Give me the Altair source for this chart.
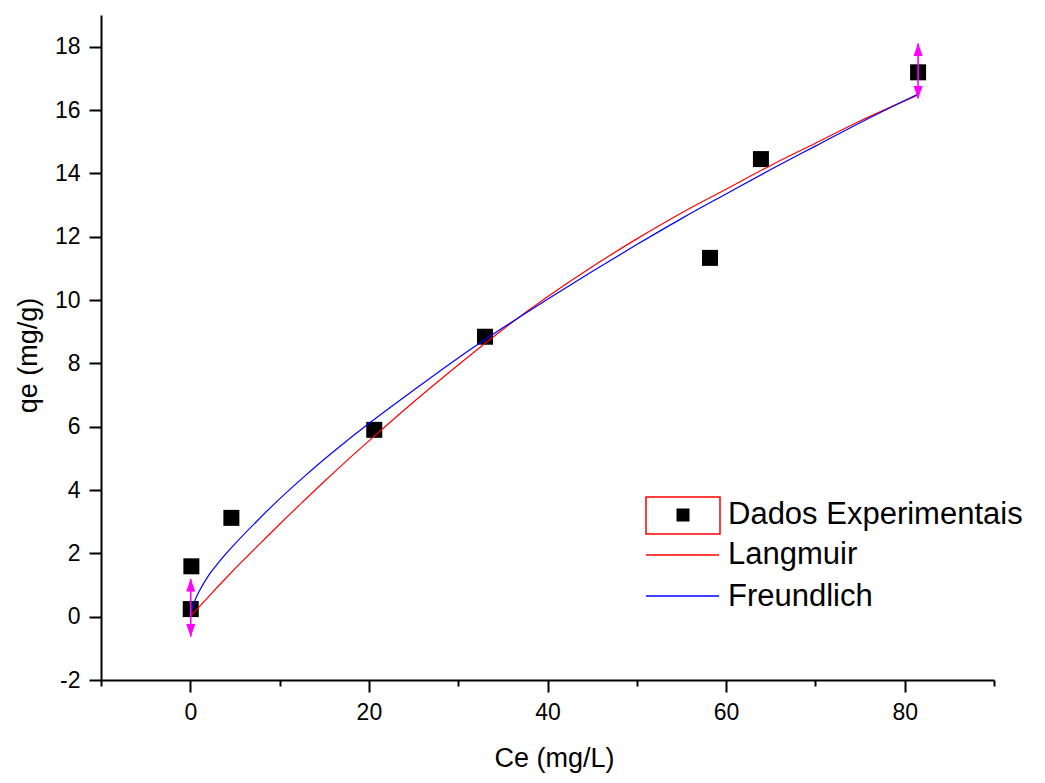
import altair as alt
import pandas as pd

ce_exp = [0.05, 0.12, 4.6, 20.6, 33.0, 58.2, 63.9, 81.5]
qe_exp = [0.24, 1.59, 3.12, 5.90, 8.84, 11.33, 14.45, 17.19]

# error bars (magenta, with arrow heads)
err_ce = [0.05, 81.5]
err_qe = [0.28, 17.23]
err_half = [0.91, 0.87]

# ---- fitted curves ----
lang_ce = [0.05, 2, 4, 6, 8, 10, 12.5, 15, 17.5, 20, 25, 30, 35, 40, 45, 50, 55, 60,
           65, 70, 75, 81.45]
lang_qe = [0.02, 0.62, 1.22, 1.8, 2.36, 2.92, 3.6, 4.27, 4.92, 5.55, 6.78, 7.95, 9.07,
           10.1, 11.05, 11.93, 12.75, 13.5, 14.25, 14.95, 15.65, 16.47]

freu_ce = [0.05, 0.5, 1, 2, 3, 4, 5, 7.5, 10, 12.5, 15, 17.5, 20, 25, 30, 35, 40, 45, 50,
           55, 60, 65, 70, 75, 81.45]
freu_qe = [0.09, 0.5, 0.8, 1.28, 1.65, 1.99, 2.3, 3.03, 3.72, 4.36, 4.97, 5.55, 6.1,
           7.15, 8.17, 9.12, 10.02, 10.9, 11.75, 12.57, 13.35, 14.12, 14.86, 15.6, 16.5]

legend_labels = ["Dados Experimentais", "Langmuir", "Freundlich"]

x_title = "Ce (mg/L)"
y_title = "qe (mg/g)"
x_ticks = list(range(-10, 91, 10))
y_ticks = list(range(-2, 20, 1))

FONT = "Liberation Sans"

exp_df = pd.DataFrame({"Ce": ce_exp, "qe": qe_exp})
lang_df = pd.DataFrame({"Ce": lang_ce, "qe": lang_qe})
freu_df = pd.DataFrame({"Ce": freu_ce, "qe": freu_qe})
err_df = pd.DataFrame({"Ce": err_ce, "qe": err_qe, "e": err_half})

x_scale = alt.Scale(domain=[-10, 90], nice=False, zero=False)
y_scale = alt.Scale(domain=[-2, 19], nice=False, zero=False)

x_axis = alt.Axis(
    title=x_title, values=x_ticks, grid=False,
    labelExpr="datum.value % 20 === 0 ? ('' + datum.value) : ''",
    tickSize={"condition": {"test": "datum.value % 20 === 0", "value": 12}, "value": 6},
    tickWidth=2, tickColor="black", domainColor="black", domainWidth=2,
    labelFont=FONT, labelFontSize=23, labelColor="black", labelPadding=9,
    titleFont=FONT, titleFontSize=27, titleFontWeight="normal", titleColor="black",
    titleBaseline="middle", titleY=78, titleX=453,
)
y_axis = alt.Axis(
    title=y_title, values=y_ticks, grid=False,
    labelExpr="datum.value % 2 === 0 ? ('' + datum.value) : ''",
    tickSize={"condition": {"test": "datum.value % 2 === 0", "value": 12}, "value": 6},
    tickWidth=2, tickColor="black", domainColor="black", domainWidth=2,
    labelFont=FONT, labelFontSize=23, labelColor="black", labelPadding=9,
    titleFont=FONT, titleFontSize=27, titleFontWeight="normal", titleColor="black",
    titleBaseline="middle", titleX=-73, titleY=340,
)

X = alt.X("Ce:Q", scale=x_scale, axis=x_axis)
Y = alt.Y("qe:Q", scale=y_scale, axis=y_axis)

points = alt.Chart(exp_df).mark_square(color="black", size=256, opacity=1).encode(x=X, y=Y)

lang_line = alt.Chart(lang_df).mark_line(color="#FF0000", strokeWidth=1.2, interpolate="monotone").encode(
    x=alt.X("Ce:Q", scale=x_scale), y=alt.Y("qe:Q", scale=y_scale), order="Ce:Q")
freu_line = alt.Chart(freu_df).mark_line(color="#0000FF", strokeWidth=1.2, interpolate="monotone").encode(
    x=alt.X("Ce:Q", scale=x_scale), y=alt.Y("qe:Q", scale=y_scale), order="Ce:Q")

err_base = alt.Chart(err_df).transform_calculate(
    lo="datum.qe - datum.e", hi="datum.qe + datum.e")
err_rule = err_base.mark_rule(color="#FF00FF", strokeWidth=1.6).encode(
    x=alt.X("Ce:Q", scale=x_scale), y=alt.Y("lo:Q", scale=y_scale), y2="hi:Q")
arrow_up = err_base.mark_point(shape="M0,-1L0.7,1L-0.7,1Z", filled=True, color="#FF00FF",
                               size=169, opacity=1, yOffset=6).encode(
    x=alt.X("Ce:Q", scale=x_scale), y=alt.Y("hi:Q", scale=y_scale))
arrow_dn = err_base.mark_point(shape="M0,1L0.7,-1L-0.7,-1Z", filled=True, color="#FF00FF",
                               size=169, opacity=1, yOffset=-6).encode(
    x=alt.X("Ce:Q", scale=x_scale), y=alt.Y("lo:Q", scale=y_scale))

# ---- legend ----
one = pd.DataFrame({"k": [0]})
leg_box = alt.Chart(one).mark_rect(fillOpacity=0, stroke="#FF0000", strokeWidth=1.5).encode(
    x=alt.value(545), x2=alt.value(619), y=alt.value(482), y2=alt.value(519))
leg_sq = alt.Chart(one).mark_square(color="black", size=169, opacity=1).encode(
    x=alt.value(582), y=alt.value(500))
leg_red = alt.Chart(one).mark_rule(color="#FF0000", strokeWidth=1.3).encode(
    x=alt.value(545), x2=alt.value(618), y=alt.value(540))
leg_blue = alt.Chart(one).mark_rule(color="#0000FF", strokeWidth=1.3).encode(
    x=alt.value(545), x2=alt.value(618), y=alt.value(581))

def leg_text(label, ypix):
    return alt.Chart(pd.DataFrame({"label": [label]})).mark_text(
        align="left", baseline="middle", font=FONT, fontSize=31, color="black").encode(
        x=alt.value(627), y=alt.value(ypix), text="label:N")

legend = (leg_box + leg_sq + leg_red + leg_blue
          + leg_text(legend_labels[0], 500)
          + leg_text(legend_labels[1], 540)
          + leg_text(legend_labels[2], 582))

chart = alt.layer(points, lang_line, freu_line, err_rule, arrow_up, arrow_dn, legend).properties(
    width=893, height=665,
    autosize=alt.AutoSizeParams(type="none"),
    padding={"left": 93, "top": 7, "right": 34, "bottom": 95},
    background="white",
).configure_view(stroke=None)

chart.save("out.html", embed_options={"renderer": "svg", "actions": False})
